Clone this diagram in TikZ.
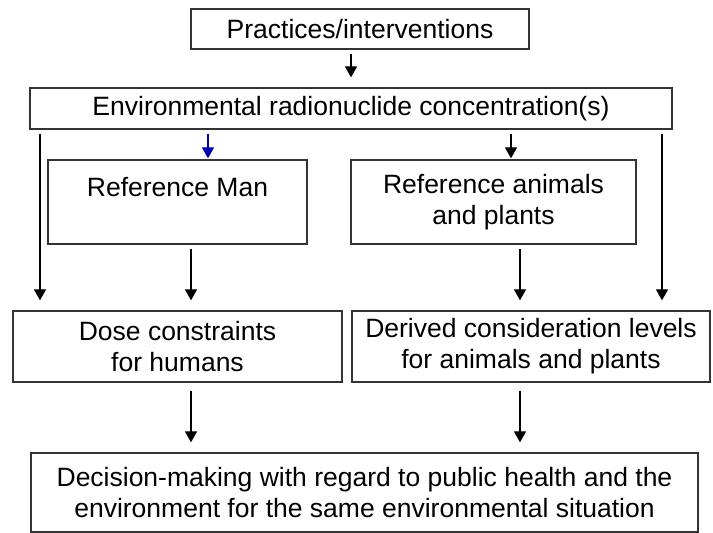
\documentclass[tikz,border=0pt]{standalone}
\usepackage{fontspec}
\setmainfont{Liberation Sans}
\usetikzlibrary{arrows.meta}
\definecolor{arrowblue}{RGB}{0,0,170}

\begin{document}
\begin{tikzpicture}[x=1pt, y=-1pt,
    box/.style={draw=black!80, line width=1.3pt, align=center, inner sep=0pt,
        font=\fontsize{26.5}{31}\selectfont},
    arr/.style={-{Triangle[width=12pt,length=11pt]}, line width=1.2pt},
  ]
    \useasboundingbox (0,0) rectangle (713,533);

    % boxes
    \node [box, minimum width=338pt, minimum height=40pt] (prac) at (360,29) {Practices/interventions};
    \node [box, minimum width=642pt, minimum height=41pt] (env) at (351,108.5) {Environmental radionuclide concentration(s)};
    \node [box, minimum width=259pt, minimum height=84pt] (refman) at (177.5,202) {Reference Man\\ \mbox{}};
    \node [box, minimum width=285pt, minimum height=84pt] (refanim) at (493.5,202) {Reference animals\\ and plants};
    \node [box, minimum width=329pt, minimum height=71pt] (dose) at (177.5,346.5) {Dose constraints\\ for humans};
    \node [box, minimum width=358pt, minimum height=71pt] (derived) at (531,346.5) {Derived consideration levels\\ for animals and plants};
    \node [box, minimum width=667pt, minimum height=79pt] (decision) at (364.5,492.5) {Decision-making with regard to public health and the\\ environment for the same environmental situation};

    % arrows
    \draw [arr, shorten <=4pt, shorten >=10pt] (env.north |- prac.south) -- (env.north);
    \draw [arr, arrowblue, shorten <=4pt, shorten >=1pt] ([xshift=30.5pt]refman.north |- env.south) -- ([xshift=30.5pt]refman.north);
    \draw [arr, shorten <=4pt, shorten >=1pt] ([xshift=17.5pt]refanim.north |- env.south) -- ([xshift=17.5pt]refanim.north);
    \draw [arr, shorten <=4pt, shorten >=10pt] ([xshift=-137.5pt]dose.north |- env.south) -- ([xshift=-137.5pt]dose.north);
    \draw [arr, shorten <=4pt, shorten >=10pt] ([xshift=131pt]derived.north |- env.south) -- ([xshift=131pt]derived.north);
    \draw [arr, shorten <=4pt, shorten >=10pt] ([xshift=13.5pt]refman.south) -- ([xshift=13.5pt]dose.north);
    \draw [arr, shorten <=4pt, shorten >=10pt] ([xshift=26.5pt]refanim.south) -- ([xshift=26.5pt]refanim.south |- derived.north);
    \draw [arr, shorten <=8pt, shorten >=10pt] ([xshift=13.5pt]dose.south) -- ([xshift=13.5pt]dose.south |- decision.north);
    \draw [arr, shorten <=8pt, shorten >=10pt] ([xshift=26.5pt]refanim.south |- derived.south) -- ([xshift=26.5pt]refanim.south |- decision.north);
\end{tikzpicture}
\end{document}
